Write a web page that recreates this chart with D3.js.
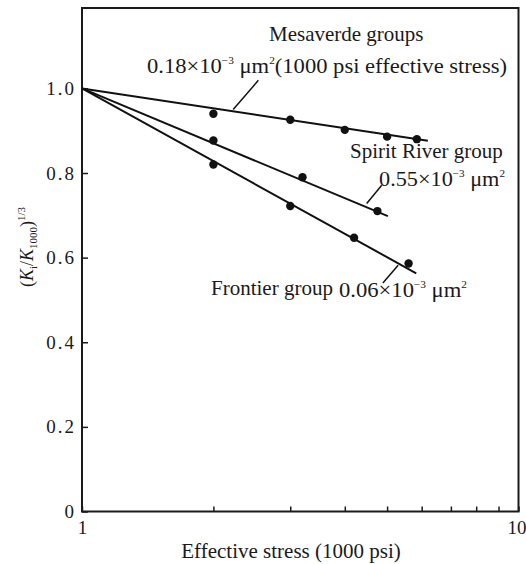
<!DOCTYPE html>
<html>
<head>
<meta charset="utf-8">
<script src="https://cdn.jsdelivr.net/npm/d3@7"></script>
<style>
  body { margin: 0; background: #fff; }
  text { font-family: "Liberation Serif", "DejaVu Serif", serif; fill: #1a1a1a; }
</style>
</head>
<body>
<svg width="526" height="564"></svg>
<script>
const svg = d3.select('svg')

// axis values
const yTicks = [0, 0.2, 0.4, 0.6, 0.8, 1.0]
const xTicks = [1, 2, 3, 4, 5, 6, 7, 8, 9, 10]
const xLabelled = [1, 10]

// Mesaverde groups
const mesaStress = [2, 3, 4, 5, 5.85]
const mesaRatio = [0.940, 0.926, 0.902, 0.886, 0.880]
const mesaFitStress = [1, 6.2]
const mesaFitRatio = [1.0, 0.876]

// Spirit River group
const spiritStress = [2, 3.2, 4.75]
const spiritRatio = [0.877, 0.790, 0.710]
const spiritFitStress = [1, 5.02]
const spiritFitRatio = [1.0, 0.698]

// Frontier group
const frontStress = [2, 3, 4.2, 5.6]
const frontRatio = [0.820, 0.722, 0.647, 0.586]
const frontFitStress = [1, 5.83]
const frontFitRatio = [1.0, 0.563]

// leader lines (stress, ratio) from curve to label
const mesaLeader = [[2.22, 0.950], [2.535, 1.019]]
const spiritLeader = [[4.49, 0.728], [4.86, 0.771]]
const frontLeader = [[5.30, 0.582], [4.89, 0.540]]

const plotLeft = 82, plotRight = 518.5, plotTop = 8, plotBottom = 511.5

const x = d3.scaleLog().domain([1, 10]).range([plotLeft, plotRight])
const y = d3.scaleLinear().domain([0, 1.19]).range([plotBottom, plotTop])

const zip = (a, b) => a.map((d, i) => [d, b[i]])
const line = d3.line().x(d => x(d[0])).y(d => y(d[1]))

// axes with inward ticks
const yAxis = svg.append('g')
  .attr('transform', `translate(${plotLeft},0)`)
  .call(d3.axisLeft(y).tickValues(yTicks).tickSize(-6).tickPadding(6)
    .tickFormat(d => d === 0 ? '0' : d3.format('.1f')(d)))
yAxis.select('.domain').remove()
yAxis.selectAll('line').attr('stroke', '#1a1a1a').attr('stroke-width', 1.5)
yAxis.selectAll('text').attr('font-size', 19).attr('letter-spacing', 2)
  .style('font-family', '"Liberation Serif", serif').attr('fill', '#1a1a1a')

const xAxis = svg.append('g')
  .attr('transform', `translate(0,${plotBottom})`)
  .call(d3.axisBottom(x).tickValues(xTicks).tickSize(-5).tickPadding(9)
    .tickFormat(d => xLabelled.includes(d) ? d : ''))
xAxis.select('.domain').remove()
xAxis.selectAll('line').attr('stroke', '#1a1a1a').attr('stroke-width', 1.5)
xAxis.selectAll('text').attr('font-size', 19)
  .style('font-family', '"Liberation Serif", serif').attr('fill', '#1a1a1a')
// keep the "10" inside the window
xAxis.selectAll('text').filter(d => d === 10).attr('text-anchor', 'end').attr('x', 526 - plotRight)

// frame
svg.append('rect')
  .attr('x', plotLeft).attr('y', plotTop)
  .attr('width', plotRight - plotLeft).attr('height', plotBottom - plotTop)
  .attr('fill', 'none').attr('stroke', '#1a1a1a').attr('stroke-width', 2)

// fitted lines
const fits = [
  zip(mesaFitStress, mesaFitRatio),
  zip(spiritFitStress, spiritFitRatio),
  zip(frontFitStress, frontFitRatio)
]
svg.selectAll('path.fit').data(fits)
  .enter().append('path')
    .attr('class', 'fit')
    .attr('d', line)
    .attr('fill', 'none')
    .attr('stroke', '#111')
    .attr('stroke-width', 2)

// points
const points = [].concat(
  zip(mesaStress, mesaRatio),
  zip(spiritStress, spiritRatio),
  zip(frontStress, frontRatio)
)
svg.selectAll('circle').data(points)
  .enter().append('circle')
    .attr('cx', d => x(d[0]))
    .attr('cy', d => y(d[1]))
    .attr('r', 4.2)
    .attr('fill', '#111')

// leaders
svg.selectAll('path.leader').data([mesaLeader, spiritLeader, frontLeader])
  .enter().append('path')
    .attr('class', 'leader')
    .attr('d', line)
    .attr('stroke', '#111')
    .attr('stroke-width', 1.5)

// annotation text helper: mantissa ×10^-3 μm^2 + tail, stretched to a width
const sci = (px, py, mant, tail, size, len) => {
  const t = svg.append('text').attr('x', px).attr('y', py).attr('font-size', size)
    .attr('textLength', len).attr('lengthAdjust', 'spacingAndGlyphs')
  t.append('tspan').text(mant + '×10')
  t.append('tspan').attr('dy', -9).attr('font-size', size * 0.5).text('−3')
  t.append('tspan').attr('dy', 9).text(' μm')
  t.append('tspan').attr('dy', -9).attr('font-size', size * 0.5).text('2')
  if (tail) t.append('tspan').attr('dy', 9).text('(1000 psi effective stress)')
  return t
}

svg.append('text').attr('x', 269).attr('y', 41).attr('font-size', 21).text('Mesaverde groups')
sci(147, 73, '0.18', true, 21, 360)

svg.append('text').attr('x', 350).attr('y', 158).attr('font-size', 21).text('Spirit River group')
sci(379, 186, '0.55', false, 21, 126)

svg.append('text').attr('x', 211).attr('y', 295).attr('font-size', 21).text('Frontier group')
sci(339, 297, '0.06', false, 21, 128)

// axis titles
svg.append('text')
  .attr('x', 291).attr('y', 558)
  .attr('text-anchor', 'middle')
  .attr('font-size', 21)
  .text('Effective stress (1000 psi)')

const yl = svg.append('text')
  .attr('transform', 'translate(33,247) rotate(-90)')
  .attr('text-anchor', 'middle')
  .attr('font-size', 18)
yl.append('tspan').text('(')
yl.append('tspan').attr('font-style', 'italic').text('K')
yl.append('tspan').attr('dy', 4).attr('font-size', 11).text('i')
yl.append('tspan').attr('dy', -4).text('/')
yl.append('tspan').attr('font-style', 'italic').text('K')
yl.append('tspan').attr('dy', 4).attr('font-size', 11).text('1000')
yl.append('tspan').attr('dy', -4).text(')')
yl.append('tspan').attr('dy', -8).attr('font-size', 11).text('1/3')
</script>
</body>
</html>
